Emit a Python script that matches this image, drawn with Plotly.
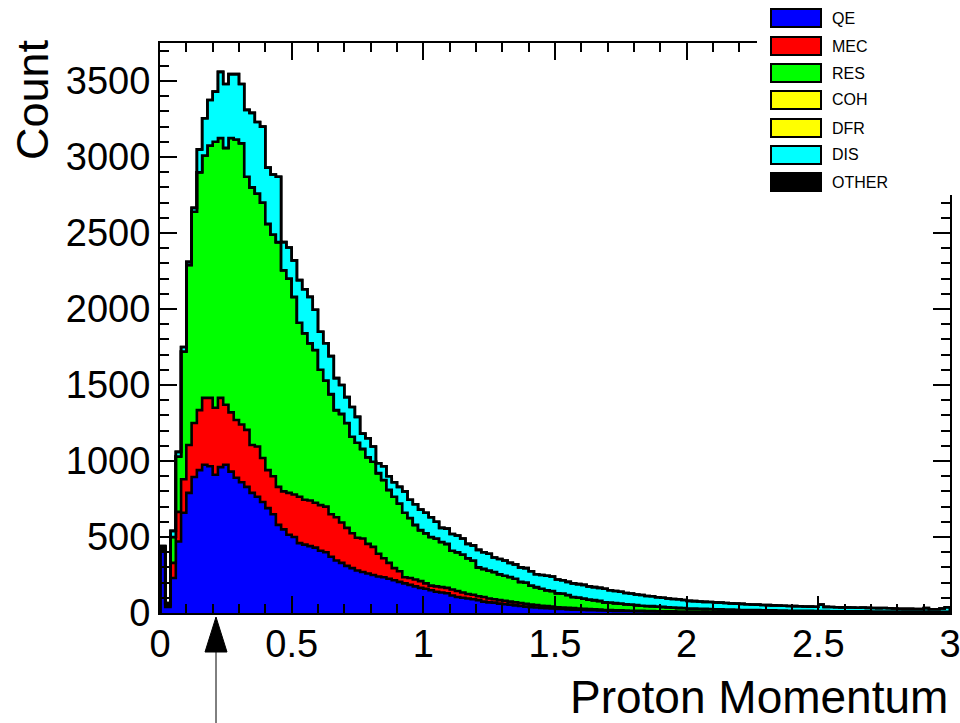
import numpy as np
import plotly.graph_objects as go

# ---------------- data ----------------
BIN_WIDTH = 0.02
X_MIN, X_MAX = 0.0, 3.0
Y_MAX = 3750

QE = [415, 40, 230, 470, 660, 790, 895, 940, 975, 965,
      910, 960, 975, 930, 890, 860, 830, 790, 765, 730,
      690, 650, 580, 550, 515, 500, 460, 450, 440, 430,
      410, 400, 370, 345, 330, 310, 295, 280, 270, 260,
      250, 240, 235, 225, 215, 205, 195, 185, 175, 165,
      160, 150, 140, 135, 130, 115, 105, 100, 95, 90,
      85, 75, 70, 68, 62, 58, 55, 50, 46, 42,
      38, 36, 34, 32, 30, 27, 26, 24, 22, 21,
      20, 19, 18, 17, 16, 15, 14, 14, 13, 13,
      12, 12, 11, 11, 10, 10, 9, 9, 9, 8,
      8, 8, 7, 7, 7, 7, 6, 6, 6, 6,
      6, 5, 5, 5, 5, 5, 5, 4, 4, 4,
      4, 4, 4, 4, 4, 4, 3, 3, 3, 3,
      3, 3, 3, 3, 3, 3, 3, 3, 3, 3,
      2, 2, 2, 2, 2, 2, 2, 2, 2, 2]

MEC = [10, 10, 100, 195, 220, 315, 355, 395, 440, 450,
       440, 455, 395, 390, 380, 380, 375, 315, 330, 290,
       250, 250, 250, 250, 275, 280, 305, 295, 300, 295,
       300, 300, 280, 285, 265, 250, 230, 215, 220, 195,
       185, 150, 125, 105, 80, 70, 40, 45, 45, 45,
       35, 30, 35, 35, 35, 40, 40, 35, 30, 30,
       25, 30, 25, 22, 23, 22, 20, 20, 19, 18,
       17, 16, 14, 13, 12, 11, 10, 10, 10, 9,
       8, 7, 6, 5, 4, 4, 4, 3, 3, 2,
       2, 2, 2, 2, 2, 2, 2, 2, 1, 2,
       2, 1, 2, 2, 1, 1, 2, 2, 1, 1,
       1, 2, 1, 1, 1, 1, 1, 1, 1, 1,
       1, 1, 1, 1, 0, 0, 1, 1, 1, 1,
       1, 1, 1, 1, 0, 0, 0, 0, 0, 0,
       1, 1, 1, 1, 1, 1, 1, 1, 1, 1]

RES = [10, 10, 170, 365, 840, 1185, 1390, 1565, 1595, 1660,
       1750, 1710, 1690, 1805, 1845, 1850, 1665, 1695, 1665, 1680,
       1620, 1590, 1610, 1455, 1410, 1300, 1145, 1095, 1035, 1005,
       890, 830, 790, 705, 715, 690, 635, 625, 590, 570,
       560, 530, 515, 480, 470, 445, 425, 395, 360, 335,
       330, 320, 315, 297, 290, 255, 255, 250, 235, 225,
       190, 185, 185, 180, 170, 165, 162, 155, 140, 140,
       125, 118, 112, 105, 103, 92, 92, 84, 73, 72,
       67, 62, 61, 58, 50, 49, 47, 45, 42, 40,
       38, 34, 33, 32, 30, 28, 27, 25, 24, 23,
       20, 20, 19, 18, 18, 17, 16, 15, 15, 14,
       13, 13, 13, 13, 12, 11, 11, 11, 11, 10,
       10, 9, 9, 9, 9, 9, 9, 8, 8, 8,
       8, 7, 7, 7, 8, 7, 7, 7, 7, 7,
       6, 6, 6, 6, 6, 6, 5, 5, 5, 5]

COH = [0, 0, 0, 0, 0, 0, 0, 0, 0, 0, 0, 0, 0, 0, 0, 0, 0, 0, 0, 0, 0, 0, 0, 0, 0, 0, 0, 0, 0, 0,
       0, 0, 0, 0, 0, 0, 0, 0, 0, 0, 0, 0, 0, 0, 0, 0, 0, 0, 0, 0, 0, 0, 0, 0, 0, 0, 0, 0, 0, 0,
       0, 0, 0, 0, 0, 0, 0, 0, 0, 0, 0, 0, 0, 0, 0, 0, 0, 0, 0, 0, 0, 0, 0, 0, 0, 0, 0, 0, 0, 0,
       0, 0, 0, 0, 0, 0, 0, 0, 0, 0, 0, 0, 0, 0, 0, 0, 0, 0, 0, 0, 0, 0, 0, 0, 0, 0, 0, 0, 0, 0,
       0, 0, 0, 0, 0, 0, 0, 0, 0, 0, 0, 0, 0, 0, 0, 0, 0, 0, 0, 0, 0, 0, 0, 0, 0, 0, 0, 0, 0, 0]

DFR = [0, 0, 0, 0, 0, 0, 0, 0, 0, 0, 0, 0, 0, 0, 0, 0, 0, 0, 0, 0, 0, 0, 0, 0, 0, 0, 0, 0, 0, 0,
       0, 0, 0, 0, 0, 0, 0, 0, 0, 0, 0, 0, 0, 0, 0, 0, 0, 0, 0, 0, 0, 0, 0, 0, 0, 0, 0, 0, 0, 0,
       0, 0, 0, 0, 0, 0, 0, 0, 0, 0, 0, 0, 0, 0, 0, 0, 0, 0, 0, 0, 0, 0, 0, 0, 0, 0, 0, 0, 0, 0,
       0, 0, 0, 0, 0, 0, 0, 0, 0, 0, 0, 0, 0, 0, 0, 0, 0, 0, 0, 0, 0, 0, 0, 0, 0, 0, 0, 0, 0, 0,
       0, 0, 0, 0, 0, 0, 0, 0, 0, 0, 0, 0, 0, 0, 0, 0, 0, 0, 0, 0, 0, 0, 0, 0, 0, 0, 0, 0, 0, 0]

DIS = [5, 5, 40, 30, 30, 20, 25, 150, 245, 300,
       330, 435, 420, 420, 430, 390, 440, 490, 470, 500,
       370, 395, 430, 185, 205, 240, 280, 290, 305, 265,
       250, 245, 250, 210, 190, 170, 195, 170, 100, 125,
       100, 65, 90, 90, 95, 110, 140, 120, 135, 135,
       135, 130, 110, 93, 100, 110, 110, 105, 95, 100,
       115, 110, 110, 95, 100, 100, 93, 95, 95, 95,
       95, 85, 90, 95, 95, 90, 87, 87, 90, 88,
       90, 87, 85, 85, 90, 82, 80, 78, 74, 73,
       70, 70, 66, 65, 62, 60, 57, 56, 56, 53,
       50, 49, 48, 46, 46, 45, 44, 43, 41, 41,
       40, 38, 37, 36, 35, 35, 33, 33, 32, 31,
       30, 30, 29, 28, 28, 42, 27, 27, 26, 25,
       25, 25, 24, 25, 23, 23, 22, 23, 21, 20,
       19, 18, 18, 17, 17, 23, 17, 17, 22, 30]

OTHER = [0, 0, 0, 0, 0, 0, 0, 0, 0, 0, 0, 0, 0, 0, 0, 0, 0, 0, 0, 0, 0, 0, 0, 0, 0, 0, 0, 0, 0, 0,
         0, 0, 0, 0, 0, 0, 0, 0, 0, 0, 0, 0, 0, 0, 0, 0, 0, 0, 0, 0, 0, 0, 0, 0, 0, 0, 0, 0, 0, 0,
         0, 0, 0, 0, 0, 0, 0, 0, 0, 0, 0, 0, 0, 0, 0, 0, 0, 0, 0, 0, 0, 0, 0, 0, 0, 0, 0, 0, 0, 0,
         0, 0, 0, 0, 0, 0, 0, 0, 0, 0, 0, 0, 0, 0, 0, 0, 0, 0, 0, 0, 0, 0, 0, 0, 0, 0, 0, 0, 0, 0,
         0, 0, 0, 0, 0, 0, 0, 0, 0, 0, 0, 0, 0, 0, 0, 0, 0, 0, 0, 0, 0, 0, 0, 0, 0, 0, 0, 0, 0, 0]

SERIES_NAMES = ["QE", "MEC", "RES", "COH", "DFR", "DIS", "OTHER"]
SERIES_VALUES = [QE, MEC, RES, COH, DFR, DIS, OTHER]
SERIES_COLORS = ["#0000ff", "#ff0000", "#00ff00", "#ffff00", "#ffff00", "#00ffff", "#000000"]

X_TICKS = [0, 0.5, 1, 1.5, 2, 2.5, 3]
X_TICK_TEXT = ["0", "0.5", "1", "1.5", "2", "2.5", "3"]
Y_TICKS = [0, 500, 1000, 1500, 2000, 2500, 3000, 3500]
Y_TICK_TEXT = ["0", "500", "1000", "1500", "2000", "2500", "3000", "3500"]

X_TITLE = "Proton Momentum"
Y_TITLE = "Count"

# ---------------- layout geometry ----------------
W, H = 960, 723
ML, MR, MT, MB = 160, 10, 43, 110
PW, PH = W - ML - MR, H - MT - MB
FONT = "Liberation Sans"


def px2paper_x(px):
    return (px - ML) / PW


def px2paper_y(py):
    return (H - MB - py) / PH


# ---------------- figure ----------------
n = len(QE)
edges = X_MIN + BIN_WIDTH * np.arange(n + 1)
xs = np.concatenate([[edges[0]], edges, [edges[-1]]])

fig = go.Figure()
cum = np.zeros(n)
for k, (name, vals, col) in enumerate(zip(SERIES_NAMES, SERIES_VALUES, SERIES_COLORS)):
    cum = cum + np.asarray(vals, dtype=float)
    ys = np.concatenate([[0.0], cum, [cum[-1]], [0.0]])
    fig.add_trace(go.Scatter(
        x=xs, y=ys, mode="lines", name=name,
        line=dict(shape="hv", color="black", width=2.6),
        fill="tozeroy" if k == 0 else "tonexty",
        fillcolor=col, showlegend=False, hoverinfo="skip",
    ))

axis_common = dict(
    showline=True, linecolor="black", linewidth=2, mirror="ticks",
    ticks="inside", tickcolor="black", tickwidth=2, ticklen=17,
    showgrid=False, zeroline=False, automargin=False,
    ticklabeloverflow="allow",
    tickfont=dict(family=FONT, size=38, color="black"),
)

fig.update_xaxes(range=[X_MIN, X_MAX], tickvals=X_TICKS, ticktext=X_TICK_TEXT,
                 ticklabelstandoff=-4,
                 minor=dict(ticks="inside", dtick=0.1, ticklen=9, tickwidth=2,
                            tickcolor="black", showgrid=False),
                 **axis_common)
fig.update_yaxes(range=[0, Y_MAX], tickvals=Y_TICKS, ticktext=Y_TICK_TEXT,
                 minor=dict(ticks="inside", dtick=100, ticklen=9, tickwidth=2,
                            tickcolor="black", showgrid=False),
                 **axis_common)

shapes = []
annotations = []

# legend: white box covering the top-right frame corner
shapes.append(dict(type="rect", xref="paper", yref="paper", layer="above",
                   x0=px2paper_x(757), x1=px2paper_x(975),
                   y0=px2paper_y(195), y1=px2paper_y(-10),
                   fillcolor="white", line=dict(width=0)))
legend_rows = [18, 46, 73, 100, 128, 155, 182]
for name, col, yc in zip(SERIES_NAMES, SERIES_COLORS, legend_rows):
    shapes.append(dict(type="rect", xref="paper", yref="paper", layer="above",
                       x0=px2paper_x(771), x1=px2paper_x(821),
                       y0=px2paper_y(yc + 9), y1=px2paper_y(yc - 9),
                       fillcolor=col, line=dict(color="black", width=2)))
    annotations.append(dict(text=name, xref="paper", yref="paper",
                            x=px2paper_x(830), y=px2paper_y(yc),
                            xanchor="left", yanchor="middle", showarrow=False,
                            font=dict(family=FONT, size=16, color="black")))

# arrow under the x axis
ax_px = 216
shapes.append(dict(type="line", xref="paper", yref="paper", layer="above",
                   x0=px2paper_x(ax_px), x1=px2paper_x(ax_px),
                   y0=px2paper_y(650), y1=px2paper_y(730),
                   line=dict(color="black", width=1)))
shapes.append(dict(type="path", xref="paper", yref="paper", layer="above",
                   path="M {a},{b} L {c},{b} L {d},{e} Z".format(
                       a=px2paper_x(ax_px - 11), c=px2paper_x(ax_px + 11),
                       b=px2paper_y(652), d=px2paper_x(ax_px), e=px2paper_y(617)),
                   fillcolor="black", line=dict(color="black", width=1)))

# axis titles (ROOT style: aligned to the axis end)
annotations.append(dict(text=X_TITLE, xref="paper", yref="paper",
                        x=1.0, y=px2paper_y(697), xanchor="right", yanchor="middle",
                        showarrow=False, font=dict(family=FONT, size=46, color="black")))
annotations.append(dict(text=Y_TITLE, xref="paper", yref="paper", textangle=-90,
                        x=px2paper_x(33), y=px2paper_y(100), xanchor="center", yanchor="middle",
                        showarrow=False, font=dict(family=FONT, size=45, color="black")))

fig.update_layout(
    width=W, height=H, autosize=False,
    margin=dict(l=ML, r=MR, t=MT, b=MB, pad=0, autoexpand=False),
    paper_bgcolor="white", plot_bgcolor="white",
    shapes=shapes, annotations=annotations,
    showlegend=False,
    font=dict(family=FONT, color="black"),
)

fig.write_html("out.html")
